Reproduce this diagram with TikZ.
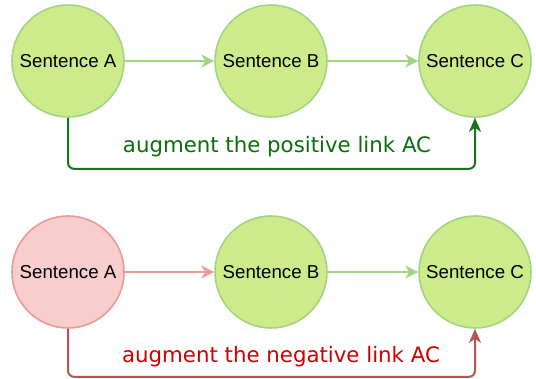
\documentclass[tikz,border=0pt]{standalone}
\usepackage{fontspec}
\setmainfont{Liberation Sans}
\newfontfamily\labelfont{DejaVu Sans}
\usetikzlibrary{arrows.meta}
\definecolor{Leaf-F}{HTML}{CDEB8B}
\definecolor{Leaf-S}{HTML}{A2D583}
\definecolor{Rose-F}{HTML}{F8CECC}
\definecolor{Rose-S}{HTML}{EA9A98}
\definecolor{Link-G}{HTML}{15741A}
\definecolor{Link-R}{HTML}{B85450}
\definecolor{Text-G}{HTML}{0B6E0B}
\definecolor{Text-R}{HTML}{CC0000}
\tikzset{
  sent/.style={circle, draw=Leaf-S, fill=Leaf-F, line width=1.6pt, minimum size=112pt, inner sep=0pt, font=\fontsize{18.7}{22}\selectfont},
  sentneg/.style={sent, draw=Rose-S, fill=Rose-F},
  flow/.style={line width=2pt, -{Stealth[length=13pt, width=13pt, inset=4pt]}},
  aug/.style={line width=2pt, rounded corners=6pt, -{Stealth[length=14pt, width=12pt, inset=4pt]}},
  auglabel/.style={font=\labelfont\fontsize{21.3}{25}\selectfont}
}
\begin{document}
\begin{tikzpicture}[x=1pt, y=-1pt]
\useasboundingbox (0,0) rectangle (536,379);

% positive example
\node [sent] (a1) at (68,61) {Sentence A};
\node [sent] (b1) at (271,61) {Sentence B};
\node [sent] (c1) at (475,61) {Sentence C};

\draw [flow, draw=Leaf-S] (a1) -- (b1);
\draw [flow, draw=Leaf-S] (b1) -- (c1);
\draw [aug, draw=Link-G] (a1.south) -- ++(0,51) -| (c1.south);
\node [auglabel, text=Text-G] (pos) at (277,147) {augment the positive link AC};

% negative example
\node [sentneg] (a2) at (68,272) {Sentence A};
\node [sent] (b2) at (271,272) {Sentence B};
\node [sent] (c2) at (475,272) {Sentence C};

\draw [flow, draw=Rose-S] (a2) -- (b2);
\draw [flow, draw=Leaf-S] (b2) -- (c2);
\draw [aug, draw=Link-R] (a2.south) -- ++(0,48) -| (c2.south);
\node [auglabel, text=Text-R] (neg) at (281,357) {augment the negative link AC};

\end{tikzpicture}
\end{document}
